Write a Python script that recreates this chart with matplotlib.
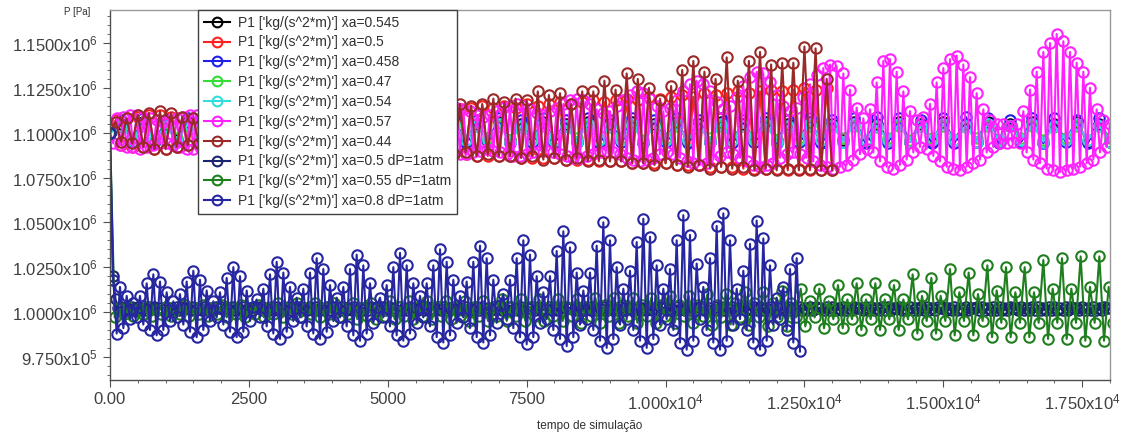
import numpy as np
import matplotlib
matplotlib.use("Agg")
import matplotlib.pyplot as plt
from matplotlib.ticker import FixedLocator, AutoMinorLocator

plt.rcParams['font.family'] = ['Liberation Sans', 'DejaVu Sans']
plt.rcParams['mathtext.fontset'] = 'custom'
plt.rcParams['mathtext.rm'] = 'Liberation Sans'
plt.rcParams['mathtext.it'] = 'Liberation Sans:italic'
plt.rcParams['mathtext.bf'] = 'Liberation Sans:bold'

# ---------------- data (pressure offsets in kPa from a base level) ----------------
upper_base_kpa = 1100.0
lower_base_kpa = 1000.0

# sampling steps of each exported series (simulation time units)
dt_band = 200
dt_red = 100
dt_brown = 100
dt_magenta = 60
dt_navy_flat = 50
dt_green = 84
dt_navy_osc = 60

p_xa0545 = [
    0, 5, -4, 6, -5, 5, -4, 6, -5, 5,
    -5, 6, -4, 5, -5, 6, -4, 5, -5, 6,
    -4, 5, -5, 6, -5, 5, -4, 6, -5, 5,
    -4, 6, -5, 5, -5, 6, -4, 5, -5, 6,
    -4, 5, -5, 6, -5, 5, -4, 6, -5, 5,
    -4, 6, -5, 5, -5, 6, -4, 5, -5, 6,
    -4, 5, -5, 6, -5, 5, -4, 6, -5, 5,
    -4, 6, -5, 5, -5, 6, -4, 5, -5, 6,
    -4, 5, -5, 6, -5, 5, -4, 6, -5, 5,
    -5]

p_xa050 = [
    0, 7, -7, 8, -8, 9, -8, 10, -9, 10,
    -9, 9, -8, 8, -7, 8, -7, 9, -8, 9,
    -8, 10, -9, 10, -9, 9, -8, 9, -8, 10,
    -9, 10, -9, 11, -9, 10, -9, 10, -10, 11,
    -10, 11, -9, 10, -9, 11, -10, 12, -10, 12,
    -11, 12, -11, 13, -11, 12, -11, 13, -12, 13,
    -12, 14, -12, 13, -12, 14, -13, 15, -13, 14,
    -13, 15, -13, 14, -14, 16, -14, 15, -14, 16,
    -14, 17, -15, 16, -15, 17, -15, 18, -16, 17,
    -16, 18, -16, 19, -17, 18, -17, 20, -17, 19,
    -17, 20, -18, 21, -18, 20, -18, 22, -19, 21,
    -19, 22, -19, 23, -20, 22, -20, 23, -20, 24,
    -20, 23, -21, 24, -20, 25, -21, 24, -21, 25,
    -21]

p_xa0458 = [
    0, 7, -5, 8, -6, 7, -5, 8, -6, 7,
    -5, 8, -6, 7, -5, 8, -6, 7, -5, 8,
    -6, 7, -5, 8, -6, 7, -5, 8, -6, 7,
    -5, 8, -6, 7, -5, 8, -6, 7, -5, 8,
    -6, 7, -5, 8, -6, 7, -5, 8, -6, 7,
    -5, 8, -6, 7, -5, 8, -6, 7, -5, 8,
    -6, 7, -5, 8, -6, 7, -5, 8, -6, 9,
    -6, 8, -5, 7, -6, 8, -6, 9, -5, 8,
    -6, 7, -5, 8, -6, 8, -5, 7, -6, 8,
    -5]

p_xa047 = [
    0, 4, -3, 4, -4, 3, -3, 4, -4, 4,
    -3, 4, -4, 3, -3, 4, -4, 4, -3, 4,
    -4, 3, -3, 4, -4, 4, -3, 4, -4, 3,
    -3, 4, -4, 4, -3, 4, -4, 3, -3, 4,
    -4, 4, -3, 4, -4, 3, -3, 4, -4, 4,
    -3, 4, -4, 3, -3, 4, -4, 4, -3, 4,
    -4, 3, -3, 4, -4, 4, -3, 4, -4, 3,
    -3, 4, -4, 4, -3, 4, -4, 3, -3, 4,
    -4, 4, -3, 4, -4, 3, -3, 4, -4, 4,
    -3]

p_xa054 = [
    0, 4, -4, 5, -4, 4, -5, 5, -4, 4,
    -4, 5, -5, 4, -4, 5, -4, 4, -5, 5,
    -4, 4, -4, 5, -5, 4, -4, 5, -4, 4,
    -5, 5, -4, 4, -4, 5, -5, 4, -4, 5,
    -4, 4, -5, 5, -4, 4, -4, 5, -5, 4,
    -4, 5, -4, 4, -5, 5, -4, 4, -4, 5,
    -5, 4, -4, 5, -4, 4, -5, 5, -4, 4,
    -4, 5, -5, 4, -4, 5, -4, 4, -5, 5,
    -4, 4, -4, 5, -5, 4, -4, 5, -4, 4,
    -5]

p_xa057 = [
    0, -6, 8, -7, 9, -8, 10, -8, 10, -9, 9, -8, 8, -7, 7, -6, 6, -6, 7, -7,
    8, -8, 9, -9, 10, -9, 10, -8, 9, -8, 8, -7, 7, -6, 7, -7, 8, -8, 9, -9,
    10, -9, 10, -9, 9, -8, 8, -7, 7, -7, 8, -8, 9, -9, 10, -9, 11, -10, 10, -9,
    9, -8, 8, -7, 8, -8, 9, -9, 10, -10, 11, -10, 11, -10, 10, -9, 9, -8, 8, -8,
    9, -9, 10, -10, 11, -10, 12, -11, 12, -11, 11, -10, 10, -9, 9, -9, 10, -10, 11, -11,
    12, -11, 13, -12, 14, -12, 13, -12, 12, -11, 10, -10, 9, -9, 10, -10, 12, -11, 14, -12,
    15, -13, 16, -13, 15, -12, 13, -11, 11, -10, 10, -10, 12, -11, 14, -12, 16, -13, 18, -14,
    19, -14, 18, -13, 16, -12, 13, -11, 11, -10, 12, -11, 15, -12, 18, -14, 21, -15, 23, -16,
    22, -15, 19, -14, 15, -12, 12, -11, 14, -12, 18, -14, 23, -16, 27, -17, 29, -18, 27, -17,
    23, -15, 17, -13, 13, -11, 15, -12, 20, -14, 26, -16, 31, -18, 34, -19, 33, -18, 28, -17,
    21, -14, 15, -12, 12, -11, 14, -12, 20, -14, 27, -16, 32, -18, 36, -19, 38, -20, 37, -19,
    33, -18, 24, -15, 14, -12, 8, -9, 13, -11, 28, -16, 40, -19, 41, -20, 34, -18, 23, -15,
    12, -11, 7, -8, 9, -9, 16, -13, 28, -16, 36, -19, 41, -20, 43, -21, 38, -19, 31, -17,
    22, -15, 13, -11, 7, -8, 5, -6, 5, -6, 4, -5, 5, -6, 12, -11, 24, -15, 34, -17,
    45, -20, 50, -21, 55, -22, 51, -21, 45, -20, 39, -19, 34, -17, 25, -15, 13, -11, 7, -8,
    5]

p_xa044 = [
    0,
    6, -5, 8, -6, 10, -8, 11, -9, 12, -9,
    11, -8, 9, -7, 8, -6, 7, -6, 8, -7,
    9, -8, 10, -8, 11, -9, 10, -9, 9, -8,
    10, -9, 11, -9, 12, -10, 11, -9, 10, -9,
    11, -10, 12, -10, 13, -11, 12, -10, 11, -10,
    12, -11, 14, -11, 13, -12, 15, -11, 14, -12,
    13, -12, 16, -11, 15, -13, 16, -12, 19, -13,
    17, -13, 19, -14, 18, -13, 23, -15, 21, -14,
    22, -15, 16, -14, 23, -16, 23, -15, 29, -16,
    24, -16, 33, -17, 30, -17, 25, -18, 18, -17,
    26, -18, 35, -19, 40, -18, 34, -20, 30, -19,
    42, -20, 29, -19, 40, -21, 45, -20, 38, -21,
    39, -20, 39, -21, 48, -20, 47, -21, 30, -21]

p_xa050_dp = [
    100, 20, 7, 2, 3, 1, 2, 1, 3, 1,
    3, 1, 2, 1, 3, 2, 3, 1, 2, 1,
    3, 1, 2, 1, 3, 1, 3, 2, 2, 1,
    3, 1, 2, 1, 3, 1, 2, 1, 3, 2,
    3, 1, 2, 1, 3, 1, 2, 1, 3, 1,
    2, 1, 3, 2, 3, 1, 2, 1, 3, 1,
    3, 1, 2, 1, 3, 1, 2, 2, 3, 1,
    2, 1, 3, 1, 3, 1, 2, 1, 3, 1,
    3, 2, 2, 1, 3, 1, 2, 1, 3, 1,
    2, 1, 3, 1, 3, 2, 2, 1, 3, 1,
    3, 1, 2, 1, 3, 1, 2, 1, 3, 2,
    2, 1, 3, 1, 3, 1, 2, 1, 3, 1,
    3, 1, 2, 2, 3, 1, 2, 1, 3, 1,
    2, 1, 3, 1, 3, 1, 2, 1, 3, 2,
    3, 1, 2, 1, 3, 1, 2, 1, 3, 1,
    2, 2, 3, 1, 3, 1, 2, 1, 3, 1,
    3, 1, 2, 1, 3, 2, 2, 1, 3, 1,
    2, 1, 3, 1, 3, 1, 2, 1, 3, 1,
    3, 1, 2, 1, 3, 1, 3, 2, 2, 1,
    3, 1, 2, 1, 3, 1, 2, 1, 3, 2,
    3, 1, 2, 1, 3, 1, 2, 1, 3, 1,
    2, 1, 3, 2, 3, 1, 2, 1, 3, 1,
    3, 1, 2, 1, 3, 1, 2, 2, 3, 1,
    2, 1, 3, 1, 3, 1, 2, 1, 3, 1,
    3, 2, 2, 1, 3, 1, 2, 1, 3, 1,
    2, 1, 3, 1, 3, 2, 2, 1, 3, 1,
    3, 1, 2, 1, 3, 1, 2, 1, 3, 2,
    2, 1, 3, 1, 3, 1, 2, 1, 3, 1,
    3, 1, 2, 2, 3, 1, 2, 1, 3, 1,
    2, 1, 3, 1, 3, 1, 2, 1, 3, 2,
    3, 1, 2, 1, 3, 1, 2, 1, 3, 1,
    2, 2, 3, 1, 3, 1, 2, 1, 3, 1,
    3, 1, 2, 1, 3, 2, 2, 1, 3, 1,
    2, 1, 3, 1, 3, 1, 2, 1, 3, 1,
    3, 1, 2, 1, 3, 1, 3, 2, 2, 1,
    3, 1, 2, 1, 3, 1, 2, 1, 3, 2,
    2]

p_xa055_dp = [
    100, -3, 2, -1,  3, -2, 1, -1,  3, -2, 1, -1,  3, -2, 1, -1,
    4, -2, 2, -1,  4, -2, 2, -1,  4, -3, 2, -1,  4, -3, 2, -1,
    4, -3, 2, -1,  5, -3, 2, -1,  5, -3, 2, -1,  5, -3, 2, -1,
    5, -3, 2, -1,  5, -4, 2, -2,  5, -4, 2, -2,  6, -4, 3, -2,
    6, -4, 3, -2,  6, -4, 3, -2,  6, -4, 3, -2,  6, -5, 3, -2,
    6, -5, 3, -2,  7, -5, 3, -2,  7, -5, 3, -2,  7, -5, 3, -2,
    7, -5, 3, -2,  7, -6, 3, -2,  8, -6, 4, -2,  8, -6, 4, -2,
    8, -6, 4, -2,  8, -6, 4, -2,  9, -6, 4, -2,  9, -6, 4, -2,
    10, -7, 4, -3,  10, -7, 5, -3,  11, -7, 5, -3,  11, -8, 5, -3,
    12, -8, 5, -3,  13, -8, 6, -3,  13, -9, 6, -4,  15, -9, 7, -4,
    16, -10, 7, -4,  16, -10, 7, -4,  15, -10, 7, -4,  21, -12, 9, -5,
    19, -12, 9, -5,  24, -13, 11, -5,  22, -13, 10, -5,  26, -14, 12, -6,
    25, -14, 11, -6,  25, -14, 11, -6,  29, -15, 13, -6,  30, -15, 13, -6,
    31, -16, 14, -6,  31, -16, 14, -6]

p_xa080_dp = [
    100, 18, -12, 14, -9, 9, -4,
    5, -3, 9, -7, 16, -10, 21, -13, 17, -10, 11, -5,
    6, -3, 10, -7, 17, -11, 23, -14, 18, -10, 12, -5,
    6, -3, 11, -7, 19, -11, 25, -14, 20, -11, 12, -5, 3,
    7, -3, 13, -8, 21, -12, 28, -15, 22, -11, 14, -5,
    8, -3, 13, -8, 22, -12, 30, -15, 24, -11, 15, -5,
    8, -3, 14, -8, 24, -13, 32, -16, 26, -12, 16, -6, 3,
    8, -3, 15, -8, 25, -13, 33, -16, 26, -12, 16, -6,
    9, -3, 16, -8, 26, -14, 35, -17, 28, -13, 18, -6,
    9, -3, 17, -9, 28, -14, 37, -17, 30, -13, 18, -6, 4,
    10, -4, 18, -9, 30, -14, 40, -18, 32, -14, 20, -6,
    11, -4, 20, -10, 34, -15, 45, -19, 36, -14, 22, -7,
    12, -4, 22, -10, 37, -16, 50, -20, 40, -15, 25, -7,
    13, -4, 23, -10, 39, -16, 52, -20, 42, -15, 26, -7,
    13, -4, 24, -10, 40, -17, 54, -21, 43, -16, 27,
    -4, 14, -10, 30, -17, 48, -21, 55, -16, 40, -7,
    13, -4, 23, -10, 38, -17, 51, -21, 41, -16, 26, -7,
    8, -4, 14, -10, 24, -17, 30, -22]

series_labels = [
    "P1 ['kg/(s^2*m)'] xa=0.545",
    "P1 ['kg/(s^2*m)'] xa=0.5",
    "P1 ['kg/(s^2*m)'] xa=0.458",
    "P1 ['kg/(s^2*m)'] xa=0.47",
    "P1 ['kg/(s^2*m)'] xa=0.54",
    "P1 ['kg/(s^2*m)'] xa=0.57",
    "P1 ['kg/(s^2*m)'] xa=0.44",
    "P1 ['kg/(s^2*m)'] xa=0.5 dP=1atm",
    "P1 ['kg/(s^2*m)'] xa=0.55 dP=1atm",
    "P1 ['kg/(s^2*m)'] xa=0.8 dP=1atm",
]
series_colors = ['#000000', '#ff2020', '#2020e8', '#33dd33', '#33dddd',
                 '#ff22ff', '#9a2a2a', '#1a2470', '#1f7f1f', '#2626a0']

y_ticks = [975000, 1000000, 1025000, 1050000, 1075000, 1100000, 1125000, 1150000]
y_tick_labels = ['9.750x10$^{5}$', '1.0000x10$^{6}$', '1.0250x10$^{6}$', '1.0500x10$^{6}$',
                 '1.0750x10$^{6}$', '1.1000x10$^{6}$', '1.1250x10$^{6}$', '1.1500x10$^{6}$']
x_ticks = [0, 2500, 5000, 7500, 10000, 12500, 15000, 17500]
x_tick_labels = ['0.00', '2500', '5000', '7500', '1.000x10$^{4}$', '1.250x10$^{4}$',
                 '1.500x10$^{4}$', '1.750x10$^{4}$']

# ---------------- build series ----------------
def series(vals, base, dt):
    v = (base + np.asarray(vals, dtype=float)) * 1000.0
    t = np.arange(len(v)) * dt
    return t, v

all_series = [
    series(p_xa0545, upper_base_kpa, dt_band),
    series(p_xa050, upper_base_kpa, dt_red),
    series(p_xa0458, upper_base_kpa, dt_band),
    series(p_xa047, upper_base_kpa, dt_band),
    series(p_xa054, upper_base_kpa, dt_band),
    series(p_xa057, upper_base_kpa, dt_magenta),
    series(p_xa044, upper_base_kpa, dt_brown),
    series(p_xa050_dp, lower_base_kpa, dt_navy_flat),
    series(p_xa055_dp, lower_base_kpa, dt_green),
    series(p_xa080_dp, lower_base_kpa, dt_navy_osc),
]

# ---------------- figure ----------------
W, H = 1124, 437
fig = plt.figure(figsize=(W / 100, H / 100), dpi=100)
ax = fig.add_axes([110 / W, 57 / H, 1000 / W, 370 / H])

for (t, v), lab, col in zip(all_series, series_labels, series_colors):
    ax.plot(t, v, '-', marker='o', color=col, lw=1.5, ms=7.5, mew=1.5,
            mfc='none', mec=col, label=lab)

ax.set_xlim(0, 18000)
ax.set_ylim(962100, 1168400)

ax.xaxis.set_major_locator(FixedLocator(x_ticks))
ax.set_xticklabels(x_tick_labels)
ax.yaxis.set_major_locator(FixedLocator(y_ticks))
ax.set_yticklabels(y_tick_labels)
ax.xaxis.set_minor_locator(AutoMinorLocator(5))
ax.yaxis.set_minor_locator(AutoMinorLocator(5))

ax.tick_params(which='major', direction='out', length=5, width=0.8, color='#505050',
               labelsize=12, labelcolor='#404040', pad=4)
ax.tick_params(which='minor', direction='out', length=2.5, width=0.6, color='#505050')

for s in ['left', 'bottom']:
    ax.spines[s].set_color('#505050')
    ax.spines[s].set_linewidth(1.0)
for s in ['top', 'right']:
    ax.spines[s].set_color('#999999')
    ax.spines[s].set_linewidth(1.0)

leg = ax.legend(loc='upper left', bbox_to_anchor=(0.088, 1.0), borderaxespad=0,
                fontsize=10, frameon=True, fancybox=False, framealpha=1,
                edgecolor='#404040', handlelength=1.9, handletextpad=0.6,
                labelspacing=0.42, borderpad=0.4)
leg.get_frame().set_linewidth(1.0)
for txt in leg.get_texts():
    txt.set_color('#303030')
for ln in leg.get_lines():
    ln.set_markersize(7)
    ln.set_linewidth(1.5)

fig.text(77 / W, 1 - 12 / H, 'P [Pa]', ha='center', va='center', fontsize=7, color='#303030')
fig.text(590 / W, 1 - 426 / H, 'tempo de simulação', ha='center', va='center',
         fontsize=8.5, color='#303030')

fig.savefig('out.png', dpi=100)
